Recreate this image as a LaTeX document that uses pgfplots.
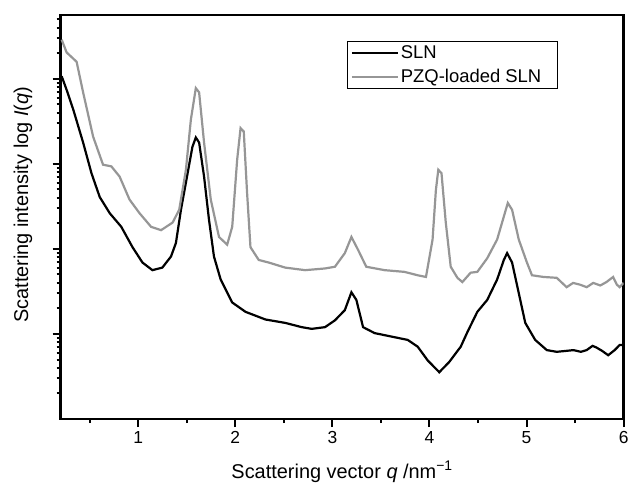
\documentclass[border=0pt]{standalone}
\usepackage{fontspec}
\setmainfont{Liberation Sans}
\usepackage{pgfplots}
\usepackage{pgfplotstable}
\pgfplotsset{compat=1.18}
\definecolor{pzqgray}{RGB}{150,150,150}

% log10 I(q)
\pgfplotstableread{
q logI
0.211 4.03
0.262 3.87
0.330 3.64
0.432 3.25
0.518 2.89
0.603 2.61
0.706 2.42
0.825 2.26
0.941 2.02
1.043 1.84
1.146 1.75
1.248 1.78
1.337 1.91
1.388 2.07
1.440 2.46
1.491 2.78
1.558 3.20
1.593 3.31
1.627 3.25
1.678 2.85
1.729 2.34
1.780 1.91
1.849 1.64
1.968 1.37
2.105 1.26
2.310 1.17
2.514 1.13
2.684 1.08
2.787 1.06
2.924 1.08
3.026 1.16
3.128 1.28
3.196 1.49
3.247 1.40
3.316 1.08
3.435 1.01
3.605 0.97
3.776 0.93
3.879 0.85
3.981 0.69
4.101 0.55
4.203 0.67
4.322 0.85
4.390 1.02
4.493 1.26
4.595 1.40
4.697 1.64
4.766 1.87
4.800 1.95
4.851 1.84
4.920 1.48
4.987 1.13
5.089 0.93
5.209 0.81
5.311 0.79
5.400 0.80
5.483 0.81
5.560 0.79
5.619 0.81
5.680 0.86
5.721 0.84
5.780 0.80
5.841 0.75
5.908 0.81
5.959 0.87
6.000 0.87
}\slndata

\pgfplotstableread{
q logI
0.211 4.46
0.262 4.31
0.365 4.20
0.432 3.84
0.535 3.32
0.637 2.99
0.723 2.97
0.808 2.85
0.910 2.58
1.013 2.42
1.132 2.26
1.235 2.22
1.354 2.31
1.422 2.46
1.491 2.93
1.542 3.52
1.593 3.89
1.627 3.84
1.678 3.25
1.747 2.58
1.832 2.14
1.916 2.05
1.968 2.26
2.019 3.05
2.054 3.42
2.087 3.38
2.121 2.66
2.156 2.02
2.241 1.87
2.343 1.84
2.514 1.78
2.719 1.75
2.924 1.77
3.026 1.79
3.128 1.95
3.196 2.14
3.264 1.99
3.349 1.79
3.538 1.75
3.742 1.73
3.879 1.69
3.964 1.67
4.032 2.11
4.066 2.69
4.091 2.93
4.124 2.89
4.168 2.31
4.219 1.79
4.288 1.66
4.339 1.61
4.424 1.72
4.493 1.73
4.595 1.89
4.697 2.11
4.766 2.38
4.807 2.54
4.851 2.46
4.920 2.11
5.004 1.84
5.056 1.69
5.175 1.67
5.311 1.66
5.413 1.55
5.480 1.60
5.550 1.58
5.620 1.55
5.687 1.60
5.760 1.57
5.823 1.61
5.892 1.67
5.930 1.58
5.959 1.55
6.000 1.60
}\pzqdata

\begin{document}
\begin{tikzpicture}
\begin{axis}[
    name=ax,
    scale only axis,
    width=563bp, height=404bp,
    xmin=0.2, xmax=6,
    ymin=0, ymax=4.75,
    xtick={1,2,3,4,5,6},
    minor xtick={0.5,1.5,2.5,3.5,4.5,5.5},
    ytick={1,2,3,4},
    yticklabels={},
    minor ytick={0.301,0.477,0.602,0.699,0.778,0.845,0.903,0.954,
                 1.301,1.477,1.602,1.699,1.778,1.845,1.903,1.954,
                 2.301,2.477,2.602,2.699,2.778,2.845,2.903,2.954,
                 3.301,3.477,3.602,3.699,3.778,3.845,3.903,3.954,
                 4.301,4.477,4.602,4.699},
    xtick pos=bottom, ytick pos=left,
    tick align=outside,
    major tick length=8bp, minor tick length=4bp,
    every tick/.style={black, line width=2bp},
    axis line style={line width=2.3bp},
    /pgf/number format/assume math mode=true,
    ticklabel style={font=\fontsize{17.5}{20}\selectfont},
    xticklabel style={yshift=-1bp},
    xlabel={Scattering vector \textit{q} /nm\textsuperscript{−1}},
    ylabel={Scattering intensity log \textit{I}(\textit{q})},
    label style={font=\fontsize{20}{24}\selectfont},
    xlabel style={at={(axis description cs:0.5,-0.131)}, anchor=center},
    ylabel style={at={(axis description cs:-0.067,0.53)}, anchor=center},
    legend style={at={(0.883,0.936)}, anchor=north east, draw=black,
        line width=1bp, inner xsep=3bp, inner ysep=2.5bp, row sep=5bp,
        font=\fontsize{18.5}{21}\selectfont, legend cell align=left},
    legend image code/.code={\draw[#1] (0bp,0bp) -- (46bp,0bp);},
]
\addplot[black, line width=2.2bp] table {\slndata};
\addlegendentry{SLN}
\addplot[pzqgray, line width=2.2bp] table {\pzqdata};
\addlegendentry{PZQ-loaded SLN\hspace*{11bp}}
\end{axis}
\pgfresetboundingbox
\path[use as bounding box] ([shift={(-60.6bp,-67bp)}]ax.south west) rectangle ([shift={(6.4bp,15bp)}]ax.north east);
\end{tikzpicture}
\end{document}
